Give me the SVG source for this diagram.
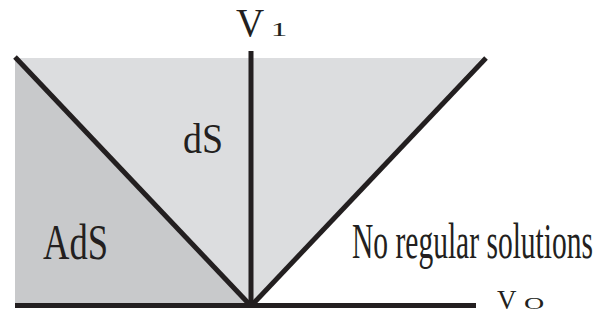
<svg xmlns="http://www.w3.org/2000/svg" width="605" height="322" viewBox="0 0 605 322">
<style>
.ln{stroke:#231f20;stroke-width:5;fill:none}
.t{font-family:"Liberation Serif",serif;fill:#231f20}
</style>
<rect width="605" height="322" fill="#fff"/>
<g id="regions">
<polygon id="ds-region" points="15,58 482,58 250,306" fill="#dcdddf"/>
<polygon id="ads-region" points="15,58 250,306 15,306" fill="#c8c9cb"/>
</g>
<g id="connectors">
<line class="ln" x1="15" y1="57" x2="251" y2="306"/>
<line class="ln" x1="251" y1="306" x2="486" y2="58"/>
<line class="ln" x1="251" y1="51" x2="251" y2="308" stroke-width="6"/>
<line class="ln" x1="15" y1="305.5" x2="476" y2="305.5"/>
</g>
<g id="labels">
<g id="v1-label">
<text class="t" x="236" y="36" font-size="39">V</text>
<g transform="translate(279,36) scale(1.7,1)"><text class="t" x="0" y="0" font-size="19.5" text-anchor="middle">1</text></g>
</g>
<g id="v0-label">
<text class="t" x="497" y="309" font-size="27">V</text>
<g transform="translate(534,309) scale(1.6,1)"><text class="t" x="0" y="0" font-size="17.5" text-anchor="middle">O</text></g>
</g>
<g transform="translate(183,153) scale(0.88,1)"><text class="t" x="0" y="0" font-size="42" textLength="45.5" lengthAdjust="spacingAndGlyphs">dS</text></g>
<g transform="translate(43,259) scale(0.75,1)"><text class="t" x="0" y="0" font-size="50" textLength="86.7" lengthAdjust="spacingAndGlyphs">AdS</text></g>
<g transform="translate(352,258) scale(0.6,1)"><text class="t" x="0" y="0" font-size="50" textLength="401.7" lengthAdjust="spacingAndGlyphs">No regular solutions</text></g>
</g>
</svg>
